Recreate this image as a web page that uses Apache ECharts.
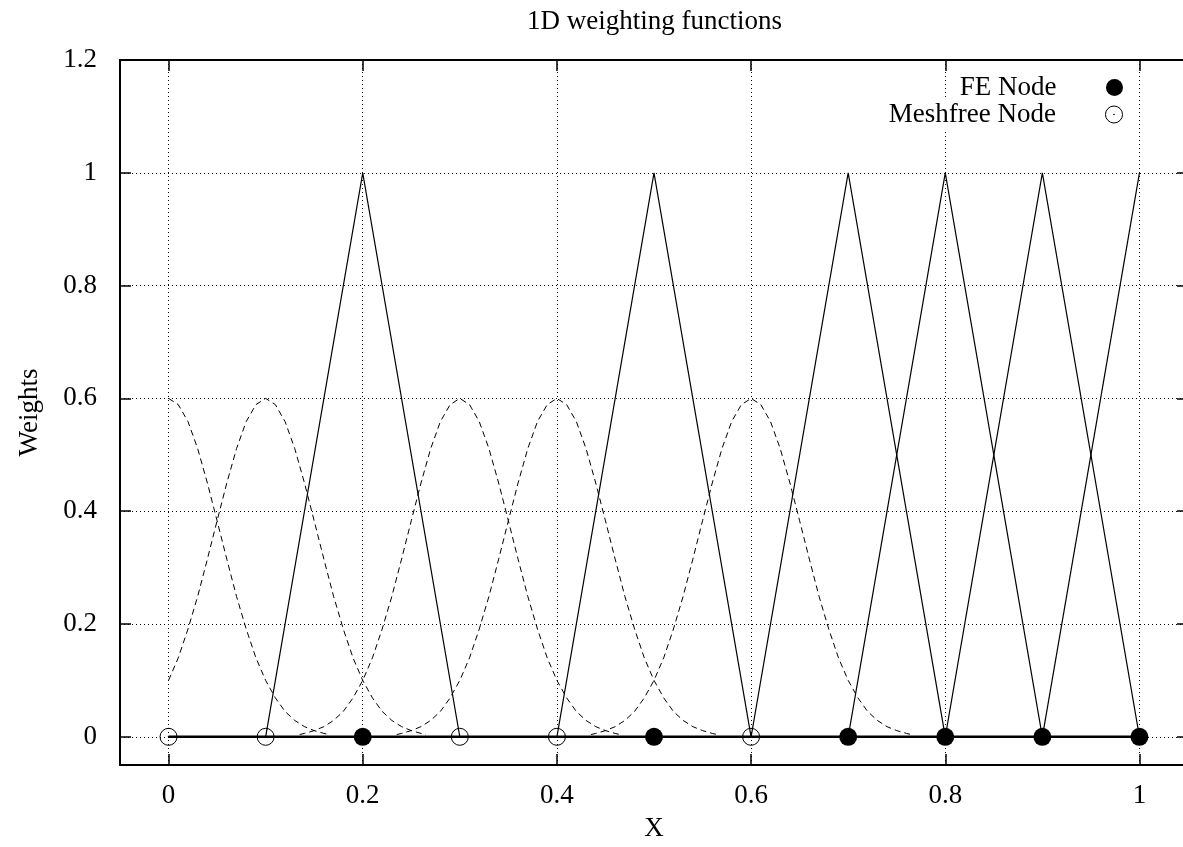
<!DOCTYPE html>
<html><head><meta charset="utf-8">
<script src="https://cdn.jsdelivr.net/npm/echarts@6/dist/echarts.min.js"></script>
<style>html,body{margin:0;padding:0;background:#fff}#c{width:1183px;height:847px}</style>
</head><body><div id="c"></div>
<script>
// ---- data ----
const titleText = '1D weighting functions';
const xName = 'X';
const yName = 'Weights';
const xTicks = [0, 0.2, 0.4, 0.6, 0.8, 1];
const yTicks = [0, 0.2, 0.4, 0.6, 0.8, 1, 1.2];
const feNodes = [0.2, 0.5, 0.7, 0.8, 0.9, 1.0];
const meshfreeNodes = [0, 0.1, 0.3, 0.4, 0.6];
// FE hat functions (x positions of each piecewise-linear function and its values)
const hatX = [[0.1, 0.2, 0.3], [0.4, 0.5, 0.6], [0.6, 0.7, 0.8], [0.7, 0.8, 0.9], [0.8, 0.9, 1.0], [0.9, 1.0]];
const hatY = [[0, 1, 0], [0, 1, 0], [0, 1, 0], [0, 1, 0], [0, 1, 0], [0, 1]];
// Meshfree weight bump (dashed), read as distance from its node -> weight
const weightOffsets = [0, 0.01, 0.02, 0.03, 0.04, 0.05, 0.06, 0.07, 0.08, 0.09, 0.10, 0.11, 0.12, 0.13, 0.14, 0.15, 0.16, 0.165];
const weightValues  = [0.600, 0.589, 0.559, 0.511, 0.450, 0.383, 0.315, 0.249, 0.191, 0.140, 0.100, 0.069, 0.045, 0.029, 0.018, 0.011, 0.006, 0.004];
const baselineX = [0, 1];
const baselineY = [0, 0];

// ---- build series ----
const FONT = 'Liberation Serif';
const FS = 27;
const series = [];
series.push({
  type: 'line', name: 'baseline', data: baselineX.map((x, i) => [x, baselineY[i]]),
  symbol: 'none', lineStyle: { color: '#000', width: 2.5 }, z: 4, silent: true
});
hatX.forEach((xs, k) => {
  series.push({
    type: 'line', name: 'hat' + k, data: xs.map((x, i) => [x, hatY[k][i]]),
    symbol: 'none', lineStyle: { color: '#000', width: 1.2 }, z: 3, silent: true
  });
});
meshfreeNodes.forEach((c, k) => {
  const pts = [];
  for (let i = weightOffsets.length - 1; i > 0; i--) {
    const x = c - weightOffsets[i];
    if (x >= 0) pts.push([x, weightValues[i]]);
  }
  for (let i = 0; i < weightOffsets.length; i++) {
    pts.push([c + weightOffsets[i], weightValues[i]]);
  }
  series.push({
    type: 'line', name: 'w' + k, data: pts, symbol: 'none',
    lineStyle: { color: '#000', width: 1, type: [6, 4] }, z: 3, silent: true
  });
});
const openCircle = 'path://M0,-8A8,8 0 1,1 0,8A8,8 0 1,1 0,-8ZM0,-0.4A0.4,0.4 0 1,1 0,0.4A0.4,0.4 0 1,1 0,-0.4Z';
series.push({
  type: 'scatter', name: 'FE Node', data: feNodes.map(x => [x, 0]),
  symbol: 'circle', symbolSize: 18, itemStyle: { color: '#000', opacity: 1 }, z: 5
});
series.push({
  type: 'scatter', name: 'Meshfree Node', data: meshfreeNodes.map(x => [x, 0]),
  symbol: openCircle, symbolSize: 17, symbolKeepAspect: true,
  itemStyle: { color: 'rgba(0,0,0,0)', borderColor: '#000', borderWidth: 1, opacity: 1 }, z: 5
});

const dotted = { color: '#000', width: 1, type: [1, 3] };
const legendCommon = {
  orient: 'vertical', align: 'right', right: 55, itemWidth: 106, itemHeight: 17,
  padding: [2, 5], backgroundColor: '#fff',
  textStyle: { fontFamily: FONT, fontSize: FS, color: '#000', width: 185, align: 'right' },
  itemStyle: { borderWidth: 1, opacity: 1 }
};

const option = {
  animation: false,
  backgroundColor: '#fff',
  title: {
    text: titleText, left: 522, top: 3,
    textStyle: { fontFamily: FONT, fontSize: FS, fontWeight: 'normal', color: '#000' }
  },
  legend: [
    Object.assign({}, legendCommon, { data: ['FE Node'], top: 72 }),
    Object.assign({}, legendCommon, { data: ['Meshfree Node'], top: 99 })
  ],
  grid: { left: 120, right: -5, top: 60, bottom: 82, outerBoundsMode: 'none', containLabel: false },
  xAxis: [{
    type: 'value', min: -0.05, max: 1.05, position: 'bottom',
    name: xName, nameLocation: 'middle', nameGap: 50,
    nameTextStyle: { fontFamily: FONT, fontSize: FS, color: '#000' },
    axisLine: { show: true, onZero: false, lineStyle: { color: '#000', width: 2 } },
    axisTick: { show: true, inside: true, length: 11, customValues: xTicks, lineStyle: { color: '#000', width: 1.5 } },
    axisLabel: { customValues: xTicks, margin: 17, fontFamily: FONT, fontSize: FS, color: '#000' },
    splitLine: { show: true, lineStyle: dotted }
  }, {
    type: 'value', min: -0.05, max: 1.05, position: 'top',
    axisLine: { show: true, onZero: false, lineStyle: { color: '#000', width: 2 } },
    axisTick: { show: true, inside: true, length: 11, customValues: xTicks, lineStyle: { color: '#000', width: 1.5 } },
    axisLabel: { show: false }, splitLine: { show: false }
  }],
  yAxis: [{
    type: 'value', min: -0.05, max: 1.2, position: 'left',
    name: yName, nameLocation: 'middle', nameGap: 77, nameRotate: 90,
    nameTextStyle: { fontFamily: FONT, fontSize: FS, color: '#000' },
    axisLine: { show: true, onZero: false, lineStyle: { color: '#000', width: 2 } },
    axisTick: { show: true, inside: true, length: 11, customValues: yTicks, lineStyle: { color: '#000', width: 1.5 } },
    axisLabel: { customValues: yTicks, margin: 23, fontFamily: FONT, fontSize: FS, color: '#000' },
    splitLine: { show: true, lineStyle: dotted }
  }, {
    type: 'value', min: -0.05, max: 1.2, position: 'right',
    axisLine: { show: true, onZero: false, lineStyle: { color: '#000', width: 2 } },
    axisTick: { show: true, inside: true, length: 11, customValues: yTicks, lineStyle: { color: '#000', width: 1.5 } },
    axisLabel: { show: false }, splitLine: { show: false }
  }],
  series: series
};
const chart = echarts.init(document.getElementById('c'), null, { renderer: 'canvas' });
chart.setOption(option);
</script>
</body></html>
